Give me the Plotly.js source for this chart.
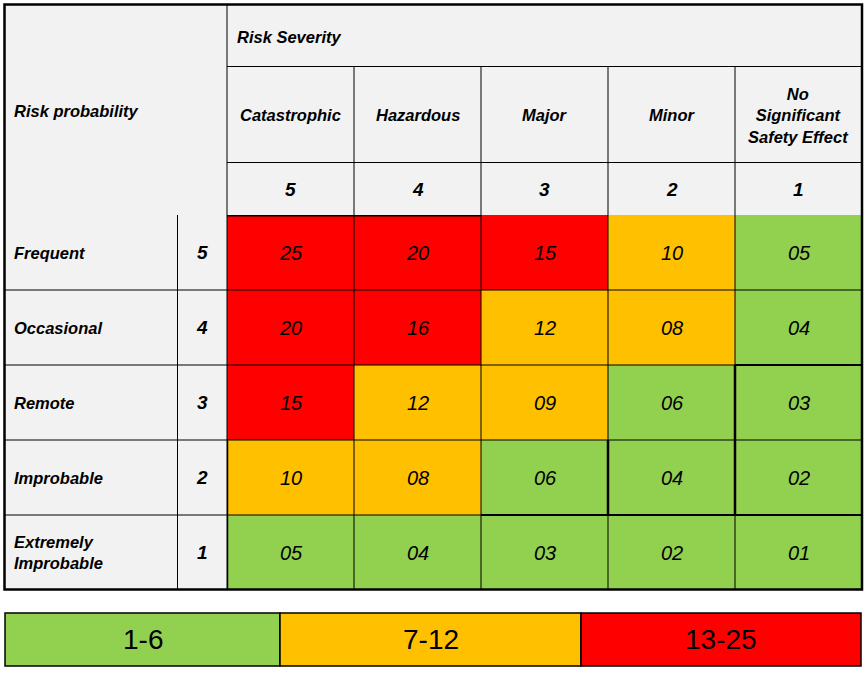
<!DOCTYPE html>
<html>
<head>
<meta charset="utf-8">
<script src="https://cdn.plot.ly/plotly-3.0.1.min.js"></script>
<style>html,body{margin:0;padding:0;background:#fff;}#chart{width:867px;height:673px;}</style>
</head>
<body>
<div id="chart"></div>
<script>
// ---- data ----
var severityNames = ['Catastrophic', 'Hazardous', 'Major', 'Minor', 'No<br>Significant<br>Safety Effect'];
var severityLevels = [5, 4, 3, 2, 1];
var probabilityNames = ['Frequent', 'Occasional', 'Remote', 'Improbable', 'Extremely<br>Improbable'];
var probabilityLevels = [5, 4, 3, 2, 1];
var riskValues = [
  [25, 20, 15, 10, 5],
  [20, 16, 12, 8, 4],
  [15, 12, 9, 6, 3],
  [10, 8, 6, 4, 2],
  [5, 4, 3, 2, 1]
];
var rangeLabels = ['1-6', '7-12', '13-25'];
var rangeMax = [6, 12, 25];
var rangeColors = ['#92D050', '#FFC000', '#FF0000'];

// ---- layout helpers (pixel -> paper) ----
var W = 867, H = 673;
var mL = 227, mR = 5, mT = 215, mB = 83;
var pw = W - mL - mR, ph = H - mT - mB;
function xp(px) { return (px - mL) / pw; }
function yp(py) { return (H - mB - py) / ph; }

function levelOf(v) {
  for (var i = 0; i < rangeMax.length; i++) if (v <= rangeMax[i]) return i;
  return rangeMax.length - 1;
}
var zLevels = riskValues.map(function (r) { return r.map(function (v) { return levelOf(v) + 0.5; }); });
var zText = riskValues.map(function (r) { return r.map(function (v) { return (v < 10 ? '0' : '') + v; }); });
var n = rangeColors.length;
var colorscale = [];
rangeColors.forEach(function (c, i) { colorscale.push([i / n, c]); colorscale.push([(i + 1) / n, c]); });

var trace = {
  type: 'heatmap',
  x: severityLevels,
  y: probabilityLevels,
  z: zLevels,
  zmin: 0, zmax: n,
  colorscale: colorscale,
  showscale: false,
  text: zText,
  texttemplate: '%{text}',
  textfont: {family: 'Arial, "Liberation Sans", sans-serif', size: 20, color: '#000', style: 'italic'},
  hoverinfo: 'skip'
};

var BOLD = {family: 'Arial, "Liberation Sans", sans-serif', size: 16.5, color: '#000', weight: 'bold', style: 'italic'};
var NUM = {family: 'Arial, "Liberation Sans", sans-serif', size: 19, color: '#000', weight: 'bold', style: 'italic'};

var shapes = [];
var LINE = {color: '#000', width: 1};
// gray background of table
shapes.push({type: 'rect', xref: 'paper', yref: 'paper', x0: xp(5), x1: 1, y0: 0, y1: yp(5), fillcolor: '#F2F2F2', line: {width: 0}, layer: 'below'});
// header horizontal lines
[66.5, 162.5].forEach(function (py) {
  shapes.push({type: 'line', xref: 'paper', yref: 'paper', x0: 0, x1: 1, y0: yp(py), y1: yp(py), line: LINE});
});
// vertical left of severity header
shapes.push({type: 'line', xref: 'paper', yref: 'paper', x0: 0, x1: 0, y0: 0, y1: yp(5), line: LINE});
// probability number column divider
shapes.push({type: 'line', xref: 'paper', yref: 'paper', x0: xp(177.5), x1: xp(177.5), y0: 0, y1: 1, line: LINE});
// column separators through header and matrix
for (var k = 1; k < severityLevels.length; k++) {
  shapes.push({type: 'line', xref: 'x', yref: 'paper', x0: k + 0.5, x1: k + 0.5, y0: 0, y1: yp(66.5), line: LINE});
}
// row separators across labels and matrix
for (var k2 = 1; k2 < probabilityLevels.length; k2++) {
  shapes.push({type: 'line', xref: 'paper', yref: 'y', x0: xp(5), x1: 1, y0: k2 + 0.5, y1: k2 + 0.5, line: LINE});
}
// heavier border segments
var THICK = {color: '#000', width: 3};
var MID = {color: '#000', width: 2.5};
shapes.push({type: 'line', xref: 'x', yref: 'y', x0: 5.5, x1: 3.5, y0: 5.5, y1: 5.5, line: THICK});
shapes.push({type: 'line', xref: 'x', yref: 'y', x0: 5.5, x1: 5.5, y0: 0.5, y1: 2.5, line: MID});
shapes.push({type: 'line', xref: 'x', yref: 'y', x0: 2.5, x1: 2.5, y0: 1.5, y1: 2.5, line: MID});
shapes.push({type: 'line', xref: 'x', yref: 'y', x0: 1.5, x1: 1.5, y0: 1.5, y1: 3.5, line: MID});
shapes.push({type: 'line', xref: 'x', yref: 'y', x0: 3.5, x1: 0.5, y0: 1.5, y1: 1.5, line: {color: '#000', width: 2}});
shapes.push({type: 'line', xref: 'x', yref: 'y', x0: 1.5, x1: 0.5, y0: 3.5, y1: 3.5, line: {color: '#000', width: 2}});
// outer border
shapes.push({type: 'rect', xref: 'paper', yref: 'paper', x0: xp(4.5), x1: xp(862), y0: yp(589.5), y1: yp(4.5), line: {color: '#000', width: 2.5}, fillcolor: 'rgba(0,0,0,0)'});

// legend boxes
var legendEdges = [5, 280, 581, 861];
var legTop = 613, legBot = 666;
var annotations = [];
rangeLabels.forEach(function (lab, i) {
  shapes.push({type: 'rect', xref: 'paper', yref: 'paper', x0: xp(legendEdges[i]), x1: xp(legendEdges[i + 1]), y0: yp(legBot), y1: yp(legTop), fillcolor: rangeColors[i], line: {color: '#000', width: 1.5}});
  annotations.push({xref: 'paper', yref: 'paper', x: xp((legendEdges[i] + legendEdges[i + 1]) / 2), y: yp((legTop + legBot) / 2), text: lab, showarrow: false, xanchor: 'center', yanchor: 'middle', font: {family: 'Arial, "Liberation Sans", sans-serif', size: 28, color: '#000'}});
});

// header texts
annotations.push({xref: 'paper', yref: 'paper', x: xp(235), y: yp(37), text: 'Risk Severity', showarrow: false, xanchor: 'left', yanchor: 'middle', font: BOLD});
annotations.push({xref: 'paper', yref: 'paper', x: xp(12), y: yp(111), text: 'Risk probability', showarrow: false, xanchor: 'left', yanchor: 'middle', font: BOLD});
severityNames.forEach(function (name, i) {
  annotations.push({xref: 'x', yref: 'paper', x: severityLevels[i], y: yp(115), text: name, showarrow: false, xanchor: 'center', yanchor: 'middle', align: 'center', font: BOLD});
  annotations.push({xref: 'x', yref: 'paper', x: severityLevels[i], y: yp(189), text: String(severityLevels[i]), showarrow: false, xanchor: 'center', yanchor: 'middle', font: NUM});
});
probabilityNames.forEach(function (name, i) {
  annotations.push({xref: 'paper', yref: 'y', x: xp(12), y: probabilityLevels[i], text: name, showarrow: false, xanchor: 'left', yanchor: 'middle', align: 'left', font: BOLD});
  annotations.push({xref: 'paper', yref: 'y', x: xp(202), y: probabilityLevels[i], text: String(probabilityLevels[i]), showarrow: false, xanchor: 'center', yanchor: 'middle', font: NUM});
});

var layout = {
  width: W, height: H,
  margin: {l: mL, r: mR, t: mT, b: mB, pad: 0},
  paper_bgcolor: '#fff', plot_bgcolor: 'rgba(0,0,0,0)',
  xaxis: {range: [5.5, 0.5], visible: false, fixedrange: true},
  yaxis: {range: [0.5, 5.5], visible: false, fixedrange: true},
  shapes: shapes,
  annotations: annotations,
  showlegend: false
};
Plotly.newPlot('chart', [trace], layout, {displayModeBar: false, staticPlot: true});
</script>
</body>
</html>
